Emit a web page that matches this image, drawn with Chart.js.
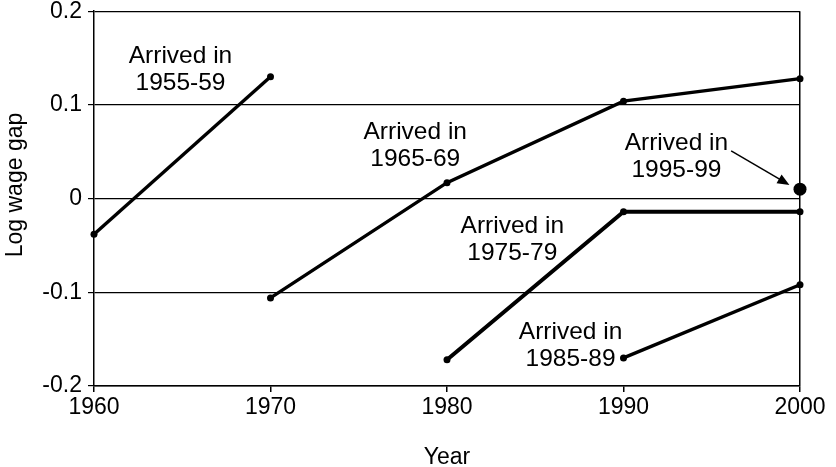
<!DOCTYPE html>
<html>
<head>
<meta charset="utf-8">
<script src="https://cdn.jsdelivr.net/npm/chart.js@4.4.0/dist/chart.umd.min.js"></script>
<style>
  html, body { margin: 0; padding: 0; background: #fff; }
  #wrap { width: 836px; height: 467px; }
</style>
</head>
<body>
<div id="wrap"><canvas id="chart" width="836" height="467"></canvas></div>
<script>
const years = [1960, 1970, 1980, 1990, 2000];
const yTicks = [-0.2, -0.1, 0, 0.1, 0.2];

const arrived5559 = [-0.038, 0.130, null, null, null];
const arrived6569 = [null, -0.106, 0.017, 0.104, 0.128];
const arrived7579 = [null, null, -0.172, -0.014, -0.014];
const arrived8589 = [null, null, null, -0.170, -0.092];
const arrived9599 = [null, null, null, null, 0.010];

// label text, anchored in data units (centre of the two lines)
const cohortLabels = [
  { lines: ["Arrived in", "1955-59"], x: 1964.9, y: 0.137 },
  { lines: ["Arrived in", "1965-69"], x: 1978.2, y: 0.056 },
  { lines: ["Arrived in", "1995-99"], x: 1993.0, y: 0.045 },
  { lines: ["Arrived in", "1975-79"], x: 1983.7, y: -0.044 },
  { lines: ["Arrived in", "1985-89"], x: 1987.0, y: -0.157 }
];
const arrowFrom = { x: 1996.1, y: 0.051 };
const arrowTo = { x: 1999.4, y: 0.0145 };

const FONT = "'Liberation Sans', Arial, sans-serif";

function toPoints(vals) {
  return years.map((x, i) => ({ x: x, y: vals[i] }));
}

function cohort(vals, width, radius) {
  return {
    data: toPoints(vals),
    borderColor: "#000",
    backgroundColor: "#000",
    borderWidth: width,
    pointRadius: radius,
    pointBackgroundColor: "#000",
    pointBorderWidth: 0,
    tension: 0,
    spanGaps: false,
    clip: false
  };
}

const labelsPlugin = {
  id: "labels",
  afterDraw(c) {
    const ctx = c.ctx;
    const xs = c.scales.x, ys = c.scales.y;
    ctx.save();
    ctx.fillStyle = "#000";
    ctx.font = "24.5px " + FONT;
    ctx.textAlign = "center";
    ctx.textBaseline = "middle";
    cohortLabels.forEach(l => {
      const px = xs.getPixelForValue(l.x);
      const py = ys.getPixelForValue(l.y);
      ctx.fillText(l.lines[0], px, py - 13.5);
      ctx.fillText(l.lines[1], px, py + 13.5);
    });

    // arrow to the 1995-99 dot
    const x1 = xs.getPixelForValue(arrowFrom.x), y1 = ys.getPixelForValue(arrowFrom.y);
    const x2 = xs.getPixelForValue(arrowTo.x), y2 = ys.getPixelForValue(arrowTo.y);
    const ang = Math.atan2(y2 - y1, x2 - x1);
    ctx.strokeStyle = "#000";
    ctx.lineWidth = 1.5;
    ctx.beginPath();
    ctx.moveTo(x1, y1);
    ctx.lineTo(x2 - 8 * Math.cos(ang), y2 - 8 * Math.sin(ang));
    ctx.stroke();
    ctx.beginPath();
    ctx.moveTo(x2, y2);
    ctx.lineTo(x2 - 12 * Math.cos(ang) + 5 * Math.sin(ang), y2 - 12 * Math.sin(ang) - 5 * Math.cos(ang));
    ctx.lineTo(x2 - 12 * Math.cos(ang) - 5 * Math.sin(ang), y2 - 12 * Math.sin(ang) + 5 * Math.cos(ang));
    ctx.closePath();
    ctx.fill();

    // y axis title
    ctx.font = "23px " + FONT;
    ctx.translate(16, 185);
    ctx.rotate(-Math.PI / 2);
    ctx.fillText("Log wage gap", 0, 0);
    ctx.restore();
  }
};

new Chart(document.getElementById("chart"), {
  type: "line",
  data: {
    datasets: [
      cohort(arrived5559, 3.4, 3.5),
      cohort(arrived6569, 3.4, 3.5),
      cohort(arrived7579, 4, 3.5),
      cohort(arrived8589, 3.4, 3.5),
      cohort(arrived9599, 3, 6.5)
    ]
  },
  options: {
    responsive: false,
    animation: false,
    layout: { padding: { top: 0, right: 36, left: 0, bottom: 0 } },
    plugins: {
      legend: { display: false },
      tooltip: { enabled: false }
    },
    scales: {
      x: {
        type: "linear",
        min: 1960,
        max: 2000,
        afterBuildTicks: s => { s.ticks = years.map(v => ({ value: v })); },
        afterFit: s => { s.height = 81; },
        border: { color: "#000", width: 1.5 },
        grid: {
          color: ctx => (ctx.tick && ctx.tick.value === 2000 ? "#000" : "transparent"),
          tickColor: "#000",
          tickLength: 6,
          lineWidth: 1.5
        },
        ticks: {
          color: "#000",
          font: { family: FONT, size: 23 },
          padding: 2,
          maxRotation: 0,
          callback: v => String(v)
        },
        title: {
          display: true,
          text: "Year",
          color: "#000",
          font: { family: FONT, size: 23 },
          padding: { top: 0, bottom: -4 }
        }
      },
      y: {
        min: -0.2,
        max: 0.2,
        afterBuildTicks: s => { s.ticks = yTicks.map(v => ({ value: v })); },
        afterFit: s => { s.width = 94; },
        border: { color: "#000", width: 1.5 },
        grid: {
          color: "#000",
          tickColor: "#000",
          tickLength: 6,
          lineWidth: 1.2
        },
        ticks: {
          color: "#000",
          font: { family: FONT, size: 23, lineHeight: 0.45 },
          padding: 6,
          callback: v => (Math.round(v * 10) / 10).toString()
        }
      }
    }
  },
  plugins: [labelsPlugin]
});
</script>
</body>
</html>
